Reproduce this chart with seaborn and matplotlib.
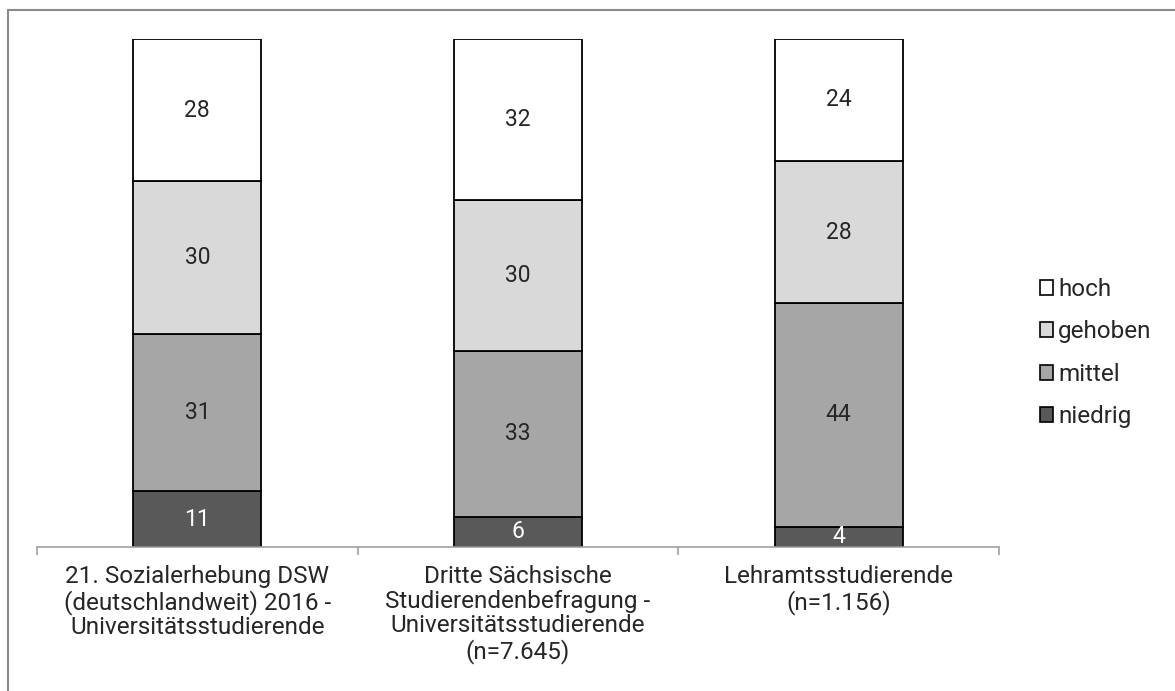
import matplotlib
matplotlib.use("Agg")
import matplotlib.pyplot as plt
from matplotlib.lines import Line2D
from matplotlib.patches import Patch
import numpy as np
import pandas as pd
import seaborn as sns

categories = [
    "21. Sozialerhebung DSW\n(deutschlandweit) 2016 -\nUniversitätsstudierende",
    "Dritte Sächsische\nStudierendenbefragung -\nUniversitätsstudierende\n(n=7.645)",
    "Lehramtsstudierende\n(n=1.156)",
]
levels = ["niedrig", "mittel", "gehoben", "hoch"]
niedrig = [11, 6, 4]
mittel = [31, 33, 44]
gehoben = [30, 30, 28]
hoch = [28, 32, 24]

colors = {"niedrig": "#595959", "mittel": "#a6a6a6", "gehoben": "#d9d9d9", "hoch": "#ffffff"}
text_colors = {"niedrig": "#ffffff", "mittel": "#262626", "gehoben": "#262626", "hoch": "#262626"}

sns.set_theme(style="white")
plt.rcParams["font.family"] = ["Roboto", "DejaVu Sans"]

values = pd.DataFrame({"niedrig": niedrig, "mittel": mittel, "gehoben": gehoben, "hoch": hoch},
                      index=categories)
# 100 % stacked: each column scaled to its own total
shares = values.div(values.sum(axis=1), axis=0) * 100

fig = plt.figure(figsize=(11.75, 6.91), dpi=100)
ax = fig.add_axes([0.0315, 0.2084, 0.8187, 0.7352])

bottom = np.zeros(len(categories))
for lvl in levels:
    df = pd.DataFrame({"cat": categories, "share": shares[lvl].values})
    sns.barplot(data=df, x="cat", y="share", ax=ax, color=colors[lvl], width=0.4,
                bottom=bottom, edgecolor="black", linewidth=1.3, saturation=1)
    for i, (b, h, raw) in enumerate(zip(bottom, shares[lvl].values, values[lvl].values)):
        ax.text(i, b + h / 2, f"{raw}", ha="center", va="center", fontsize=16.5,
                color=text_colors[lvl])
    bottom = bottom + shares[lvl].values

ax.set_xlim(-0.5, 2.5)
ax.set_ylim(0, 100)
ax.set_xlabel("")
ax.set_ylabel("")
ax.set_yticks([])
for s in ["top", "left", "right"]:
    ax.spines[s].set_visible(False)
ax.spines["bottom"].set_color("#a0a0a0")
ax.spines["bottom"].set_linewidth(1.2)
ax.set_xticks(range(len(categories)))
ax.set_xticklabels(categories, fontsize=17.5, color="#262626", linespacing=1.09, va="top")
ax.tick_params(axis="x", which="major", length=0, pad=13)
ax.set_xticks([-0.5, 0.5, 1.5, 2.5], minor=True)
ax.tick_params(axis="x", which="minor", length=6, width=1.2, color="#a0a0a0", bottom=True)

handles = [Patch(facecolor=colors[l], edgecolor="black", linewidth=1.2, label=l)
           for l in reversed(levels)]
leg = fig.legend(handles=handles, loc="center left", bbox_to_anchor=(0.885, 0.489),
                 frameon=False, fontsize=17.5, handlelength=0.55, handleheight=0.55,
                 handletextpad=0.2, labelspacing=0.8, borderaxespad=0, borderpad=0)
for t in leg.get_texts():
    t.set_color("#262626")

# outer frame (top and left edges visible)
fig.add_artist(Line2D([8 / 1175, 1], [1 - 9.5 / 691, 1 - 9.5 / 691], transform=fig.transFigure,
                      color="#8a8a8a", linewidth=1.5))
fig.add_artist(Line2D([7.5 / 1175, 7.5 / 1175], [0, 1 - 9.5 / 691], transform=fig.transFigure,
                      color="#8a8a8a", linewidth=1.5))

fig.savefig("out.png", dpi=100)
plt.close(fig)
